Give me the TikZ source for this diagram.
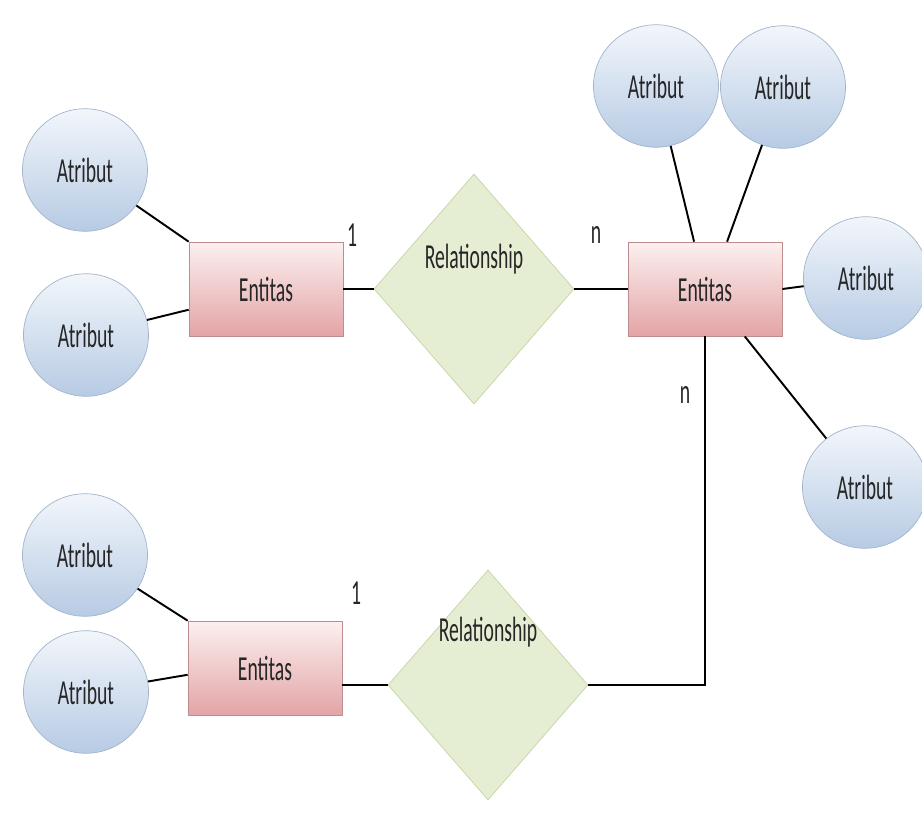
\documentclass[tikz,border=0pt]{standalone}
\usepackage{fontspec}
\setmainfont{Carlito}
\newfontfamily\erfont[FakeStretch=0.56]{Carlito}
\usetikzlibrary{shapes.geometric,positioning}

\definecolor{attrtop}{HTML}{F2F6FB}
\definecolor{attrbot}{HTML}{B7CBE4}
\definecolor{attrborder}{HTML}{A3B4CA}
\definecolor{enttop}{HTML}{FCF0F0}
\definecolor{entbot}{HTML}{E3A4A6}
\definecolor{entborder}{HTML}{BC8C8E}
\definecolor{relfill}{HTML}{E5EDD3}
\definecolor{relborder}{HTML}{C5D5A3}

\begin{document}
\begin{tikzpicture}[x=0.2mm, y=-0.2mm,
    every node/.style={font=\erfont\fontsize{20}{22}\selectfont, text=black!85},
    attr/.style={ellipse, draw=attrborder, top color=attrtop, bottom color=attrbot, minimum width=2.5cm, minimum height=2.45cm, inner sep=0pt},
    ent/.style={draw=entborder, top color=enttop, bottom color=entbot, minimum width=3.08cm, minimum height=1.88cm},
    rel/.style={diamond, draw=relborder, fill=relfill, minimum width=4cm, minimum height=4.6cm, aspect=0.87, inner sep=0pt},
    conn/.style={line width=1.1pt}]
    \useasboundingbox (0,0) rectangle (922,812);

    % upper part
    \node[ent] (entL) at (266,289) {Entitas};
    \node[rel, label={[name=rel1txt, yshift=0.6cm]center:Relationship}] (rel1) at (474,289) {};
    \node[ent] (entR) at (705,289) {Entitas};
    \node[attr] (attrL1) at (85,170) {Atribut};
    \node[attr] (attrL2) at (86,335) {Atribut};
    \node[attr] (attrT1) at (656,86) {Atribut};
    \node[attr] (attrT2) at (783,87) {Atribut};
    \node[attr] (attrR1) at (866,278) {Atribut};
    \node[attr] (attrR2) at (865,487) {Atribut};
    \node (one1) at (352,235) {1};
    \node (enn1) at (596,235) {n};
    \node (enn2) at (685,395) {n};

    % lower part
    \node[ent] (entB) at (265,668) {Entitas};
    \node[rel, label={[name=rel2txt, yshift=1.05cm]center:Relationship}] (rel2) at (488,685) {};
    \node[attr] (attrB1) at (85,555) {Atribut};
    \node[attr] (attrB2) at (86,692) {Atribut};
    \node (one2) at (356,593) {1};

    \draw[conn] (attrL1) -- (entL.north west);
    \draw[conn] (attrL2) -- (entL.195);
    \draw[conn] (entL.east) -- (rel1.west);
    \draw[conn] (rel1.east) -- (entR.west);
    \draw[conn] (attrT1) -- (entR.103);
    \draw[conn] (attrT2) -- (entR.65);
    \draw[conn] (attrR1) -- (entR.east);
    \draw[conn] (attrR2) -- (entR.-50);
    \draw[conn] (entR.south) |- (rel2.east);
    \draw[conn] (attrB1) -- (entB.north west);
    \draw[conn] (attrB2) -- (entB.185);
    \draw[conn] (rel2.west -| entB.east) -- (rel2.west);
  \end{tikzpicture}
\end{document}
